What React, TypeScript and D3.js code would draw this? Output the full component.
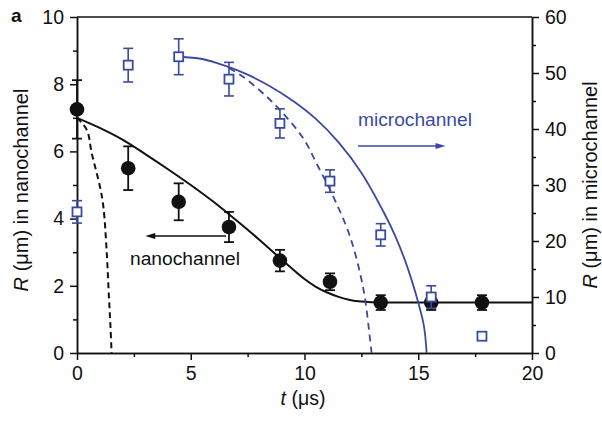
import { useEffect, useRef } from 'react'
import * as d3 from 'd3'

// measured time points (μs), shared by both series
const times = [0, 2.25, 4.47, 6.68, 8.92, 11.12, 13.35, 15.57, 17.8]

// nanochannel radius (μm, left axis)
const nanoR = [7.25, 5.5, 4.5, 3.75, 2.75, 2.12, 1.5, 1.5, 1.5]
const nanoErr = [0.87, 0.65, 0.55, 0.45, 0.32, 0.25, 0.22, 0.22, 0.22]

// microchannel radius (μm, right axis)
const microR = [25.2, 51.4, 52.9, 48.9, 41, 30.7, 21.1, 10, 3]
const microErr = [2, 3, 3.2, 3, 2.6, 2, 2, 2, 0]

// model curves
const nanoFitT = [0, 1, 2, 3, 4, 5, 6, 7, 8, 9, 10, 10.5, 11, 11.5, 12, 12.5, 13, 13.5, 16, 20]
const nanoFitR = [7.0, 6.7, 6.35, 5.92, 5.47, 5.0, 4.5, 3.95, 3.38, 2.78, 2.2, 1.97, 1.8, 1.67, 1.58, 1.53, 1.51, 1.5, 1.5, 1.5]

const nanoDashT = [0, 0.43, 0.65, 1.01, 1.16, 1.3, 1.41, 1.47, 1.52]
const nanoDashR = [7.0, 6.64, 5.94, 4.95, 4.35, 3.07, 1.58, 0.8, 0]

const microFitT = [4.47, 5.5, 6.5, 7.5, 8.5, 9.5, 10.5, 11.5, 12.5, 13.5, 14, 14.5, 15, 15.25, 15.37]
const microFitR = [52.9, 52.5, 51.3, 49.7, 47.6, 45.0, 41.8, 37.6, 32.2, 25, 20.8, 15.6, 9, 4.8, 0]

const microDashT = [6.68, 7.31, 8.33, 9.1, 9.95, 10.6, 11.27, 12.0, 12.58, 12.88, 12.95]
const microDashR = [50.9, 49.3, 45.8, 42.6, 38.3, 33.3, 27.9, 20.8, 11.6, 2.5, 0]

const xTicks = [0, 5, 10, 15, 20]
const xMinor = [2.5, 7.5, 12.5, 17.5]
const yLTicks = [0, 2, 4, 6, 8, 10]
const yLMinor = [1, 3, 5, 7, 9]
const yRTicks = [0, 10, 20, 30, 40, 50, 60]
const yRMinor = [5, 15, 25, 35, 45, 55]

const BLUE = '#3a4aa3'
const FONT = '"Liberation Sans", Arial, sans-serif'

export default function App() {
  const svgRef = useRef<SVGSVGElement>(null)

  useEffect(() => {
    if (!svgRef.current) return
    const svg = d3.select(svgRef.current)
    svg.selectAll('*').remove()

    const x = d3.scaleLinear().domain([0, 20]).range([77, 532])
    const yL = d3.scaleLinear().domain([0, 10]).range([353, 17])
    const yR = d3.scaleLinear().domain([0, 60]).range([353, 17])

    const styleAxis = (g: any) => {
      g.select('.domain').attr('stroke', '#111').attr('stroke-width', 1.5)
      g.selectAll('.tick line').attr('stroke', '#111').attr('stroke-width', 1.5)
      g.selectAll('.tick text').attr('fill', '#111').attr('font-size', 19.5).attr('font-family', FONT)
    }

    // minor ticks first
    svg.append('g').attr('transform', 'translate(0,353)')
      .call(d3.axisBottom(x).tickValues(xMinor).tickSize(4).tickSizeOuter(0).tickFormat(() => ''))
      .call(styleAxis)
    svg.append('g').attr('transform', 'translate(77,0)')
      .call(d3.axisLeft(yL).tickValues(yLMinor).tickSize(4).tickSizeOuter(0).tickFormat(() => ''))
      .call(styleAxis)
    svg.append('g').attr('transform', 'translate(532,0)')
      .call(d3.axisRight(yR).tickValues(yRMinor).tickSize(4).tickSizeOuter(0).tickFormat(() => ''))
      .call(styleAxis)

    // major axes
    svg.append('g').attr('transform', 'translate(0,353)')
      .call(d3.axisBottom(x).tickValues(xTicks).tickSize(7).tickSizeOuter(0).tickPadding(6).tickFormat(d3.format('d')))
      .call(styleAxis)
    svg.append('g').attr('transform', 'translate(77,0)')
      .call(d3.axisLeft(yL).tickValues(yLTicks).tickSize(7).tickSizeOuter(0).tickPadding(6).tickFormat(d3.format('d')))
      .call(styleAxis)
    svg.append('g').attr('transform', 'translate(532,0)')
      .call(d3.axisRight(yR).tickValues(yRTicks).tickSize(7).tickSizeOuter(0).tickPadding(6).tickFormat(d3.format('d')))
      .call(styleAxis)

    // top frame line
    svg.append('line')
      .attr('x1', x(0)).attr('x2', x(20)).attr('y1', yL(10)).attr('y2', yL(10))
      .attr('stroke', '#111').attr('stroke-width', 1.5)

    // curves
    const curve = (ts: number[], rs: number[], y: d3.ScaleLinear<number, number>) =>
      d3.line<number>().x((_, i) => x(ts[i])).y(d => y(d)).curve(d3.curveCatmullRom.alpha(0.5))(rs)

    svg.append('path').attr('d', curve(nanoFitT, nanoFitR, yL))
      .attr('fill', 'none').attr('stroke', '#111').attr('stroke-width', 2)
    svg.append('path').attr('d', curve(nanoDashT, nanoDashR, yL))
      .attr('fill', 'none').attr('stroke', '#111').attr('stroke-width', 2).attr('stroke-dasharray', '6,4')
    svg.append('path').attr('d', curve(microFitT, microFitR, yR))
      .attr('fill', 'none').attr('stroke', BLUE).attr('stroke-width', 1.8)
    svg.append('path').attr('d', curve(microDashT, microDashR, yR))
      .attr('fill', 'none').attr('stroke', BLUE).attr('stroke-width', 1.8).attr('stroke-dasharray', '7,5')

    // nanochannel points
    const nano = times.map((t, i) => ({ t, r: nanoR[i], e: nanoErr[i] }))
    const ng = svg.append('g')
    nano.forEach(d => {
      const cx = x(d.t)
      if (d.e > 0) {
        ng.append('line').attr('x1', cx).attr('x2', cx).attr('y1', yL(d.r - d.e)).attr('y2', yL(d.r + d.e))
          .attr('stroke', '#111').attr('stroke-width', 1.8)
        ;[d.r - d.e, d.r + d.e].forEach(v => {
          ng.append('line').attr('x1', cx - 5).attr('x2', cx + 5).attr('y1', yL(v)).attr('y2', yL(v))
            .attr('stroke', '#111').attr('stroke-width', 1.8)
        })
      }
      ng.append('circle').attr('cx', cx).attr('cy', yL(d.r)).attr('r', 7.3).attr('fill', '#111')
    })

    // microchannel points
    const micro = times.map((t, i) => ({ t, r: microR[i], e: microErr[i] }))
    const mg = svg.append('g')
    micro.forEach(d => {
      const cx = x(d.t)
      if (d.e > 0) {
        mg.append('line').attr('x1', cx).attr('x2', cx).attr('y1', yR(d.r - d.e)).attr('y2', yR(d.r + d.e))
          .attr('stroke', BLUE).attr('stroke-width', 1.6)
        ;[d.r - d.e, d.r + d.e].forEach(v => {
          mg.append('line').attr('x1', cx - 5).attr('x2', cx + 5).attr('y1', yR(v)).attr('y2', yR(v))
            .attr('stroke', BLUE).attr('stroke-width', 1.6)
        })
      }
      mg.append('rect').attr('x', cx - 4.5).attr('y', yR(d.r) - 4.5).attr('width', 9).attr('height', 9)
        .attr('fill', '#fff').attr('stroke', BLUE).attr('stroke-width', 1.8)
    })

    // annotations
    const arrow = (x1: number, x2: number, y: number, color: string, w: number) => {
      const dir = Math.sign(x2 - x1)
      svg.append('line').attr('x1', x1).attr('x2', x2 - dir * 8).attr('y1', y).attr('y2', y)
        .attr('stroke', color).attr('stroke-width', w)
      svg.append('path')
        .attr('d', `M${x2},${y} L${x2 - dir * 10},${y - 3} L${x2 - dir * 10},${y + 3} Z`)
        .attr('fill', color)
    }
    svg.append('text').attr('x', x(12.35)).attr('y', yL(6.76))
      .attr('font-family', FONT).attr('font-size', 17.5).attr('fill', BLUE)
      .attr('textLength', 114).attr('lengthAdjust', 'spacingAndGlyphs')
      .text('microchannel')
    arrow(x(12.35), x(16.2), yL(6.16), BLUE, 1.5)

    svg.append('text').attr('x', x(2.33)).attr('y', yL(2.62))
      .attr('font-family', FONT).attr('font-size', 17.5).attr('fill', '#111')
      .attr('textLength', 110).attr('lengthAdjust', 'spacingAndGlyphs')
      .text('nanochannel')
    arrow(x(6.55), x(3.0), yL(3.48), '#111', 1.5)

    // axis titles
    const xt = svg.append('text').attr('x', 303).attr('y', 405).attr('text-anchor', 'middle')
      .attr('font-family', FONT).attr('font-size', 19.5).attr('fill', '#111')
    xt.append('tspan').attr('font-style', 'italic').text('t')
    xt.append('tspan').text(' (μs)')

    const lt = svg.append('text').attr('transform', 'translate(28,190) rotate(-90)').attr('text-anchor', 'middle')
      .attr('font-family', FONT).attr('font-size', 20).attr('fill', '#111')
    lt.append('tspan').attr('font-style', 'italic').text('R')
    lt.append('tspan').text(' (μm) in nanochannel')

    const rt = svg.append('text').attr('transform', 'translate(597,185) rotate(-90)').attr('text-anchor', 'middle')
      .attr('font-family', FONT).attr('font-size', 20).attr('fill', '#111')
    rt.append('tspan').attr('font-style', 'italic').text('R')
    rt.append('tspan').text(' (μm) in microchannel')

    svg.append('text').attr('x', 11).attr('y', 22)
      .attr('font-family', FONT).attr('font-size', 19).attr('font-weight', 'bold').attr('fill', '#111')
      .text('a')
  }, [])

  return (
    <svg ref={svgRef} width={602} height={422}
      style={{ position: 'absolute', left: 0, top: 0, background: '#fff' }} />
  )
}
